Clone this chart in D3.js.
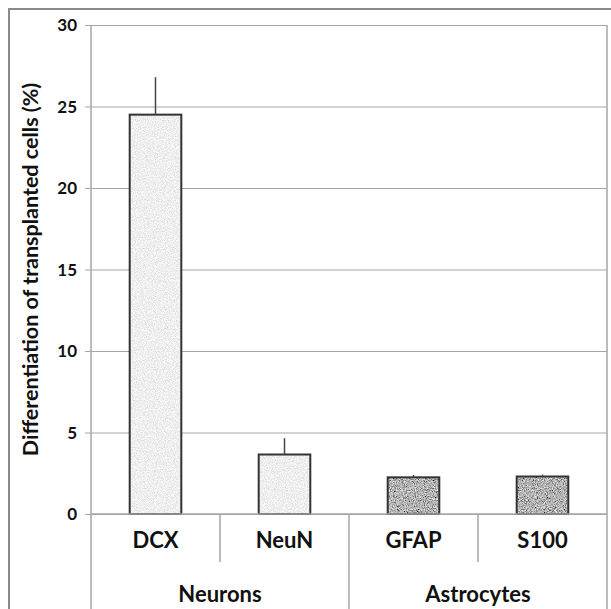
<!DOCTYPE html>
<html>
<head>
<script src="https://d3js.org/d3.v7.min.js"></script>
<style>
  body { margin: 0; background: #fff; }
  text { font-family: Lato, "Open Sans", sans-serif; font-weight: bold; fill: #111; }
</style>
</head>
<body>
<div id="chart"></div>
<script>
// chart values
const categories = ['DCX', 'NeuN', 'GFAP', 'S100'];
const groups = ['Neurons', 'Neurons', 'Astrocytes', 'Astrocytes'];
const means = [24.5, 3.65, 2.25, 2.3];
const errors = [2.3, 1.0, 0.15, 0.12];
const yTicks = [0, 5, 10, 15, 20, 25, 30];

const W = 611, H = 609;
const margin = { top: 25, right: 4, bottom: 95, left: 91 };
const width = W - margin.left - margin.right;
const height = H - margin.top - margin.bottom;

const svg = d3.select('#chart').append('svg')
    .attr('width', W).attr('height', H);

// speckle textures
const defs = svg.append('defs');
function speckle(id, base, amount) {
    const f = defs.append('filter').attr('id', id)
        .attr('x', 0).attr('y', 0).attr('width', 1).attr('height', 1);
    f.append('feTurbulence').attr('type', 'fractalNoise')
        .attr('baseFrequency', 1.1).attr('numOctaves', 2).attr('seed', 3).attr('result', 'n');
    f.append('feColorMatrix').attr('in', 'n').attr('type', 'matrix')
        .attr('values', `0 0 0 ${amount} ${base - amount / 2}  0 0 0 ${amount} ${base - amount / 2}  0 0 0 ${amount} ${base - amount / 2}  0 0 0 0 1`)
        .attr('result', 'c');
    f.append('feComposite').attr('in', 'c').attr('in2', 'SourceGraphic').attr('operator', 'in');
}
speckle('light', 0.86, 0.5);
speckle('dark', 0.45, 1.4);

// outer frame
svg.append('path')
    .attr('d', `M9,${H} V9 H${W}`)
    .attr('fill', 'none').attr('stroke', '#8a8a8a').attr('stroke-width', 2);

const g = svg.append('g').attr('transform', `translate(${margin.left},${margin.top})`);

const x = d3.scaleBand().domain(categories).range([0, width]).paddingInner(0.6).paddingOuter(0.3);
const y = d3.scaleLinear().domain([0, 30]).range([height, 0]);

// gridlines and y axis
const yAxis = g.append('g')
    .call(d3.axisLeft(y).tickValues(yTicks).tickSize(-width).tickSizeOuter(0).tickPadding(14));
yAxis.select('.domain').remove();
yAxis.selectAll('line').attr('stroke', '#a6a6a6').attr('x1', -6);
yAxis.selectAll('text').style('font-size', '17px').attr('dy', '0.35em');

// plot area side lines (extend into category area)
g.append('line').attr('x1', 0).attr('x2', 0).attr('y1', 0).attr('y2', H - margin.top)
    .attr('stroke', '#a6a6a6').attr('stroke-width', 1.5);
g.append('line').attr('x1', width).attr('x2', width).attr('y1', 0).attr('y2', H - margin.top)
    .attr('stroke', '#a6a6a6').attr('stroke-width', 1.5);

// bars
g.selectAll('rect.bar').data(categories).enter().append('rect')
    .attr('class', 'bar')
    .attr('x', d => x(d))
    .attr('y', (d, i) => y(means[i]))
    .attr('width', x.bandwidth())
    .attr('height', (d, i) => y(0) - y(means[i]))
    .attr('fill', (d, i) => i < 2 ? '#e2e2e2' : '#7a7a7a')
    .attr('filter', (d, i) => i < 2 ? 'url(#light)' : 'url(#dark)');
g.selectAll('rect.outline').data(categories).enter().append('rect')
    .attr('x', d => x(d))
    .attr('y', (d, i) => y(means[i]))
    .attr('width', x.bandwidth())
    .attr('height', (d, i) => y(0) - y(means[i]))
    .attr('fill', 'none').attr('stroke', '#333').attr('stroke-width', 2);

// error bars (upper only)
g.selectAll('line.err').data(categories).enter().append('line')
    .attr('x1', d => x(d) + x.bandwidth() / 2)
    .attr('x2', d => x(d) + x.bandwidth() / 2)
    .attr('y1', (d, i) => y(means[i]))
    .attr('y2', (d, i) => y(means[i] + errors[i]))
    .attr('stroke', '#444').attr('stroke-width', 1.5);

// category axis
const step = width / categories.length;
g.append('line').attr('x1', 0).attr('x2', width).attr('y1', height).attr('y2', height)
    .attr('stroke', '#a6a6a6').attr('stroke-width', 1.5);
[1, 3].forEach(k => {
    g.append('line').attr('x1', k * step).attr('x2', k * step)
        .attr('y1', height).attr('y2', height + 48)
        .attr('stroke', '#a6a6a6').attr('stroke-width', 1.5);
});
g.append('line').attr('x1', 2 * step).attr('x2', 2 * step)
    .attr('y1', height).attr('y2', H - margin.top)
    .attr('stroke', '#a6a6a6').attr('stroke-width', 1.5);

g.selectAll('text.cat').data(categories).enter().append('text')
    .attr('x', d => x(d) + x.bandwidth() / 2)
    .attr('y', height + 34)
    .attr('text-anchor', 'middle')
    .style('font-size', '22px')
    .text(d => d);

const groupNames = Array.from(new Set(groups));
g.selectAll('text.grp').data(groupNames).enter().append('text')
    .attr('x', d => {
        const idx = groups.map((v, i) => v === d ? i : -1).filter(i => i >= 0);
        return (idx[0] + idx[idx.length - 1] + 1) / 2 * step;
    })
    .attr('y', height + 88)
    .attr('text-anchor', 'middle')
    .style('font-size', '22px')
    .text(d => d);

// y axis title
svg.append('text')
    .attr('transform', `translate(38,${margin.top + height / 2}) rotate(-90)`)
    .attr('text-anchor', 'middle')
    .style('font-size', '21.5px')
    .text('Differentiation of transplanted cells (%)');
</script>
</body>
</html>
